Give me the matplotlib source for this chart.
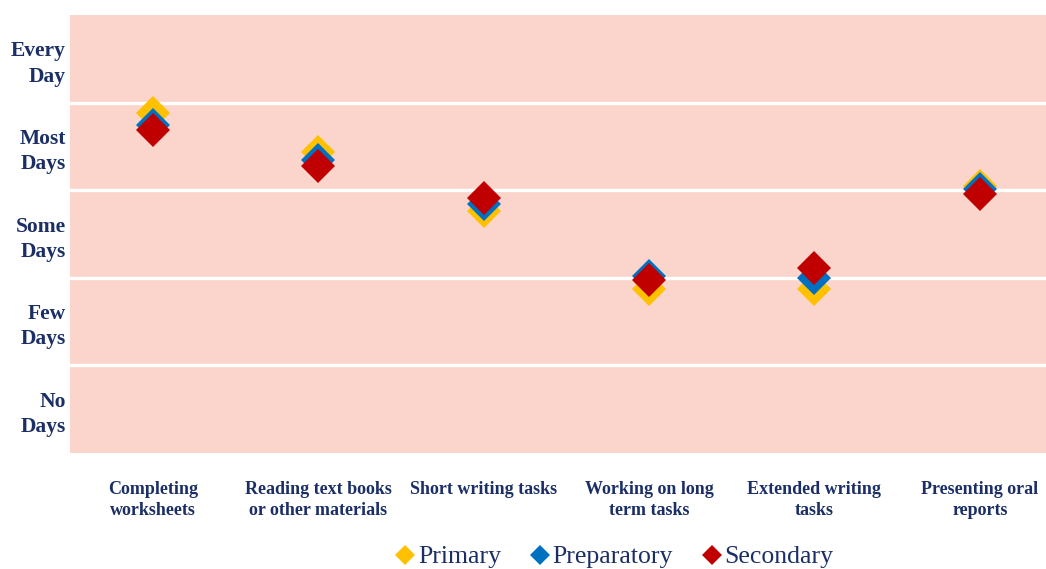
import matplotlib
matplotlib.use("Agg")
import matplotlib.pyplot as plt
from matplotlib.lines import Line2D

categories = ["Completing\nworksheets", "Reading text books\nor other materials",
              "Short writing tasks", "Working on long\nterm tasks",
              "Extended writing\ntasks", "Presenting oral\nreports"]
y_labels = ["No\nDays", "Few\nDays", "Some\nDays", "Most\nDays", "Every\nDay"]
series_names = ["Primary", "Preparatory", "Secondary"]
primary = [3.88, 3.44, 2.76, 1.87, 1.87, 3.05]
preparatory = [3.74, 3.34, 2.84, 2.02, 2.00, 3.01]
secondary = [3.69, 3.28, 2.91, 1.97, 2.11, 2.96]
colors = ["#FFC000", "#0070C0", "#C00000"]

text_color = "#1B2F66"
bg = "#FBD5CB"

plt.rcParams['font.family'] = ['Liberation Serif', 'DejaVu Serif']

W, H = 1046, 569
fig = plt.figure(figsize=(W / 100, H / 100), dpi=100)
ax = fig.add_axes([70 / W, 1 - 453 / H, (1046 - 70) / W, (453 - 15) / H])
ax.set_facecolor(bg)
for s in ax.spines.values():
    s.set_visible(False)

x = list(range(len(categories)))
for vals, c in zip([primary, preparatory, secondary], colors):
    ax.plot(x, vals, linestyle='none', marker='D', markersize=17.5,
            color=c, markeredgewidth=0, zorder=3)

for yb in [1, 2, 3, 4]:
    ax.axhline(yb, color='white', linewidth=2.4, zorder=1)

ax.set_xlim(-0.5, 5.4)
ax.set_ylim(0, 5)
ax.set_yticks([0.5, 1.5, 2.5, 3.5, 4.5])
ax.set_yticklabels(y_labels, fontsize=15.5, fontweight='bold', color=text_color,
                   multialignment='right', linespacing=1.35)
ax.set_xticks(x)
ax.set_xticklabels(categories, fontsize=13, fontweight='bold', color=text_color,
                   multialignment='center', linespacing=1.3)
ax.tick_params(axis='both', length=0)
ax.tick_params(axis='x', pad=20)
ax.tick_params(axis='y', pad=3)

handles = [Line2D([], [], linestyle='none', marker='D', markersize=10,
                  color=c, markeredgewidth=0) for c in colors]
leg = fig.legend(handles, series_names, loc='center', ncol=3,
                 bbox_to_anchor=(613 / W, 1 - 557 / H), frameon=False,
                 prop={'size': 18.5}, handletextpad=0.0, columnspacing=1.0,
                 handlelength=1.0, borderaxespad=0)
for t in leg.get_texts():
    t.set_color(text_color)

fig.savefig("out.png", dpi=100)
